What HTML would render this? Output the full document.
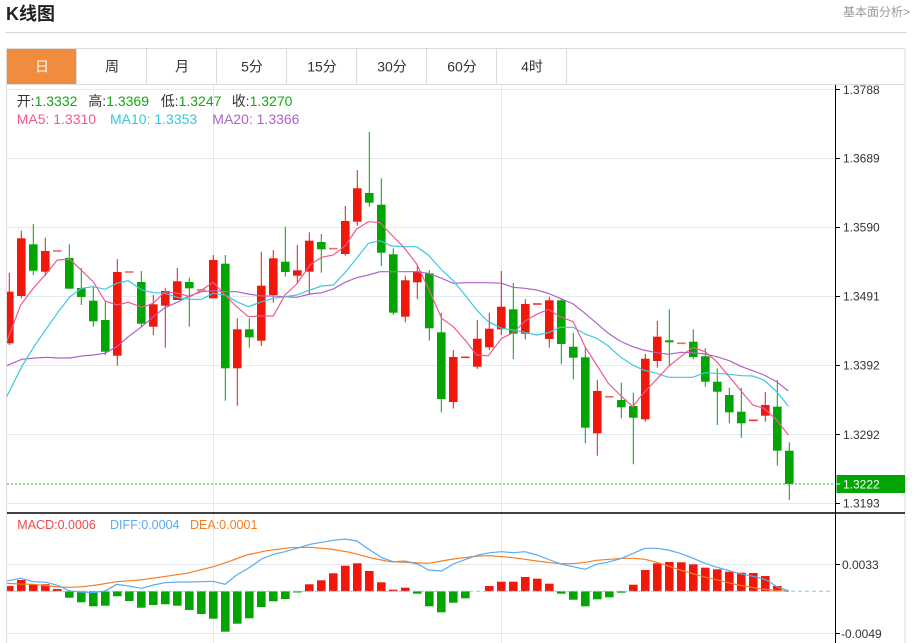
<!DOCTYPE html>
<html><head><meta charset="utf-8"><style>
html,body{margin:0;padding:0;background:#fff;}
svg{display:block;font-family:"Liberation Sans","Noto Sans CJK SC",sans-serif;}
.r{fill:#f0170b}.g{fill:#03a503}
.gl{stroke:#e3eaf0;stroke-width:1}
</style></head><body>
<svg width="915" height="643" viewBox="0 0 915 643" xmlns="http://www.w3.org/2000/svg">
<defs><clipPath id="cp"><rect x="7" y="85" width="828" height="558"/></clipPath></defs>
<!-- header -->
<text x="6" y="20" font-size="18" font-weight="bold" fill="#222">K线图</text>
<text x="910" y="16" font-size="12" fill="#999" text-anchor="end">基本面分析&gt;</text>
<line x1="5" y1="32.5" x2="907" y2="32.5" stroke="#d8d8d8" stroke-width="1"/>
<!-- container -->
<rect x="6.5" y="48.5" width="898.5" height="600" fill="none" stroke="#dcdcdc"/>
<rect x="7" y="49" width="69.5" height="35" fill="#f18b3e"/>
<line x1="6.5" y1="84.5" x2="905" y2="84.5" stroke="#dcdcdc"/>
<g stroke="#dcdcdc"><line x1="76.5" y1="49" x2="76.5" y2="84"/><line x1="146.5" y1="49" x2="146.5" y2="84"/><line x1="216.5" y1="49" x2="216.5" y2="84"/><line x1="286.5" y1="49" x2="286.5" y2="84"/><line x1="356.5" y1="49" x2="356.5" y2="84"/><line x1="426.5" y1="49" x2="426.5" y2="84"/><line x1="496.5" y1="49" x2="496.5" y2="84"/><line x1="566.5" y1="49" x2="566.5" y2="84"/></g>
<g font-size="14" text-anchor="middle" fill="#333">
<text x="42" y="71.5" fill="#fff">日</text><text x="112" y="71.5">周</text><text x="182" y="71.5">月</text><text x="252" y="71.5">5分</text><text x="322" y="71.5">15分</text><text x="392" y="71.5">30分</text><text x="462" y="71.5">60分</text><text x="532" y="71.5">4时</text>
</g>
<!-- grid -->
<g class="gl">
<line x1="7" y1="89.5" x2="835" y2="89.5"/><line x1="7" y1="158.5" x2="835" y2="158.5"/><line x1="7" y1="227.5" x2="835" y2="227.5"/><line x1="7" y1="296.5" x2="835" y2="296.5"/><line x1="7" y1="365.5" x2="835" y2="365.5"/><line x1="7" y1="434.5" x2="835" y2="434.5"/><line x1="7" y1="503.5" x2="835" y2="503.5"/>
<line x1="7" y1="564.5" x2="835" y2="564.5"/><line x1="7" y1="633.5" x2="835" y2="633.5"/>
<line x1="213.5" y1="85" x2="213.5" y2="643"/><line x1="501.5" y1="85" x2="501.5" y2="643"/>
</g>
<!-- info text -->
<g font-size="14">
<text x="16.7" y="106" fill="#333">开:<tspan fill="#12a812">1.3332</tspan></text>
<text x="88.3" y="106" fill="#333">高:<tspan fill="#12a812">1.3369</tspan></text>
<text x="160.7" y="106" fill="#333">低:<tspan fill="#12a812">1.3247</tspan></text>
<text x="231.7" y="106" fill="#333">收:<tspan fill="#12a812">1.3270</tspan></text>
<text x="16.7" y="124" fill="#f05a8c">MA5: 1.3310</text>
<text x="110" y="124" fill="#35c6e0">MA10: 1.3353</text>
<text x="212.3" y="124" fill="#b062c8">MA20: 1.3366</text>
</g>
<g clip-path="url(#cp)">
<!-- candles -->
<g transform="translate(5)" class="r"><rect x="3.8" y="273" width="1" height="72"/><rect y="291.7" width="8.6" height="51.6"/></g>
<g transform="translate(17)" class="r"><rect x="3.8" y="230.7" width="1" height="67.6"/><rect y="238.3" width="8.6" height="57.7"/></g>
<g transform="translate(29)" class="g"><rect x="3.8" y="224" width="1" height="51"/><rect y="244.3" width="8.6" height="26.4"/></g>
<g transform="translate(41)" class="r"><rect x="3.8" y="237.7" width="1" height="38.3"/><rect y="251" width="8.6" height="20.7"/></g>
<g transform="translate(53)" fill="#f26a60"><rect y="250.2" width="8.6" height="1.6"/></g>
<g transform="translate(65)" class="g"><rect x="3.8" y="244.3" width="1" height="44.4"/><rect y="258" width="8.6" height="30.7"/></g>
<g transform="translate(77)" class="g"><rect x="3.8" y="268" width="1" height="37"/><rect y="288" width="8.6" height="9"/></g>
<g transform="translate(89)" class="g"><rect x="3.8" y="285.7" width="1" height="41"/><rect y="300.7" width="8.6" height="20.6"/></g>
<g transform="translate(101)" class="g"><rect x="3.8" y="301.7" width="1" height="53.3"/><rect y="320" width="8.6" height="31.7"/></g>
<g transform="translate(113)" class="r"><rect x="3.8" y="259" width="1" height="106.7"/><rect y="272" width="8.6" height="83.7"/></g>
<g transform="translate(125)" fill="#f26a60"><rect y="271.2" width="8.6" height="1.6"/></g>
<g transform="translate(137)" class="g"><rect x="3.8" y="271" width="1" height="56.3"/><rect y="282" width="8.6" height="41.7"/></g>
<g transform="translate(149)" class="r"><rect x="3.8" y="295" width="1" height="40"/><rect y="304.3" width="8.6" height="22.4"/></g>
<g transform="translate(161)" class="r"><rect x="3.8" y="288.3" width="1" height="59.4"/><rect y="291" width="8.6" height="14.7"/></g>
<g transform="translate(173)" class="r"><rect x="3.8" y="268" width="1" height="32"/><rect y="281.3" width="8.6" height="18.7"/></g>
<g transform="translate(185)" class="g"><rect x="3.8" y="277.7" width="1" height="49"/><rect y="282" width="8.6" height="6.3"/></g>
<g transform="translate(197)" fill="#f26a60"><rect y="289.2" width="8.6" height="1.6"/></g>
<g transform="translate(209)" class="r"><rect x="3.8" y="255" width="1" height="43.3"/><rect y="260" width="8.6" height="38.3"/></g>
<g transform="translate(221)" class="g"><rect x="3.8" y="255" width="1" height="145.7"/><rect y="263.7" width="8.6" height="104.6"/></g>
<g transform="translate(233)" class="r"><rect x="3.8" y="318.3" width="1" height="87.4"/><rect y="329.3" width="8.6" height="39"/></g>
<g transform="translate(245)" class="g"><rect x="3.8" y="318.3" width="1" height="29.4"/><rect y="329.3" width="8.6" height="8"/></g>
<g transform="translate(257)" class="r"><rect x="3.8" y="251.7" width="1" height="94.3"/><rect y="285.7" width="8.6" height="55"/></g>
<g transform="translate(269)" class="r"><rect x="3.8" y="250" width="1" height="52.7"/><rect y="258.3" width="8.6" height="36.7"/></g>
<g transform="translate(281)" class="g"><rect x="3.8" y="226.7" width="1" height="50"/><rect y="261.7" width="8.6" height="10.3"/></g>
<g transform="translate(293)" class="r"><rect x="3.8" y="245" width="1" height="38.3"/><rect y="270.3" width="8.6" height="5.4"/></g>
<g transform="translate(305)" class="r"><rect x="3.8" y="232.3" width="1" height="62.7"/><rect y="240.7" width="8.6" height="31"/></g>
<g transform="translate(317)" class="g"><rect x="3.8" y="234" width="1" height="38.7"/><rect y="242" width="8.6" height="7.3"/></g>
<g transform="translate(329)" fill="#f26a60"><rect y="247.8" width="8.6" height="1.6"/></g>
<g transform="translate(341)" class="r"><rect x="3.8" y="206" width="1" height="49.7"/><rect y="221" width="8.6" height="33"/></g>
<g transform="translate(353)" class="r"><rect x="3.8" y="170" width="1" height="55.7"/><rect y="188.3" width="8.6" height="33.4"/></g>
<g transform="translate(365)" class="g"><rect x="3.8" y="132" width="1" height="74.7"/><rect y="193" width="8.6" height="9.7"/></g>
<g transform="translate(377)" class="g"><rect x="3.8" y="178.3" width="1" height="87.7"/><rect y="204.7" width="8.6" height="48"/></g>
<g transform="translate(389)" class="g"><rect x="3.8" y="248.3" width="1" height="66.7"/><rect y="254.3" width="8.6" height="58.4"/></g>
<g transform="translate(401)" class="r"><rect x="3.8" y="275.7" width="1" height="46.6"/><rect y="280.3" width="8.6" height="36.4"/></g>
<g transform="translate(413)" class="r"><rect x="3.8" y="265" width="1" height="34"/><rect y="271.3" width="8.6" height="11"/></g>
<g transform="translate(425)" class="g"><rect x="3.8" y="270" width="1" height="70.7"/><rect y="273.3" width="8.6" height="55"/></g>
<g transform="translate(437)" class="g"><rect x="3.8" y="312.7" width="1" height="99.6"/><rect y="332.3" width="8.6" height="66.7"/></g>
<g transform="translate(449)" class="r"><rect x="3.8" y="350" width="1" height="58.5"/><rect y="357" width="8.6" height="45"/></g>
<g transform="translate(461)" fill="#f0302a"><rect y="356.5" width="8.6" height="1.6"/></g>
<g transform="translate(473)" class="r"><rect x="3.8" y="320" width="1" height="49"/><rect y="338.7" width="8.6" height="28"/></g>
<g transform="translate(485)" class="r"><rect x="3.8" y="312.7" width="1" height="37.3"/><rect y="328.7" width="8.6" height="18.6"/></g>
<g transform="translate(497)" class="r"><rect x="3.8" y="271" width="1" height="64"/><rect y="306.7" width="8.6" height="22.6"/></g>
<g transform="translate(509)" class="g"><rect x="3.8" y="283" width="1" height="76"/><rect y="309.3" width="8.6" height="24.4"/></g>
<g transform="translate(521)" class="r"><rect x="3.8" y="299" width="1" height="40.3"/><rect y="304" width="8.6" height="29.7"/></g>
<g transform="translate(533)" fill="#f0302a"><rect y="303.2" width="8.6" height="1.6"/></g>
<g transform="translate(545)" class="r"><rect x="3.8" y="296.7" width="1" height="51"/><rect y="300.3" width="8.6" height="38.7"/></g>
<g transform="translate(557)" class="g"><rect x="3.8" y="298.3" width="1" height="66"/><rect y="300.3" width="8.6" height="43.7"/></g>
<g transform="translate(569)" class="g"><rect x="3.8" y="332.7" width="1" height="46.6"/><rect y="346.7" width="8.6" height="11"/></g>
<g transform="translate(581)" class="g"><rect x="3.8" y="346.7" width="1" height="96.6"/><rect y="357.3" width="8.6" height="70.4"/></g>
<g transform="translate(593)" class="r"><rect x="3.8" y="380" width="1" height="75.7"/><rect y="391" width="8.6" height="42.3"/></g>
<g transform="translate(605)" fill="#f26a60"><rect y="396" width="8.6" height="1.6"/></g>
<g transform="translate(617)" class="g"><rect x="3.8" y="382.7" width="1" height="35.6"/><rect y="400" width="8.6" height="7.3"/></g>
<g transform="translate(629)" class="g"><rect x="3.8" y="392.7" width="1" height="71.6"/><rect y="406" width="8.6" height="11.7"/></g>
<g transform="translate(641)" class="r"><rect x="3.8" y="354" width="1" height="67.7"/><rect y="358.7" width="8.6" height="60.6"/></g>
<g transform="translate(653)" class="r"><rect x="3.8" y="321" width="1" height="46.7"/><rect y="336.7" width="8.6" height="24.3"/></g>
<g transform="translate(665)" class="g"><rect x="3.8" y="309.3" width="1" height="56.4"/><rect y="340.3" width="8.6" height="2"/></g>
<g transform="translate(677)" fill="#f26a60"><rect y="342.5" width="8.6" height="1.6"/></g>
<g transform="translate(689)" class="g"><rect x="3.8" y="329.3" width="1" height="30"/><rect y="341.7" width="8.6" height="15.3"/></g>
<g transform="translate(701)" class="g"><rect x="3.8" y="348.3" width="1" height="38.4"/><rect y="356.3" width="8.6" height="25.4"/></g>
<g transform="translate(713)" class="g"><rect x="3.8" y="368.3" width="1" height="56.7"/><rect y="381.7" width="8.6" height="10"/></g>
<g transform="translate(725)" class="g"><rect x="3.8" y="387.7" width="1" height="35.6"/><rect y="395" width="8.6" height="17.3"/></g>
<g transform="translate(737)" class="g"><rect x="3.8" y="387.7" width="1" height="50"/><rect y="411.7" width="8.6" height="11.6"/></g>
<g transform="translate(749)" fill="#f0302a"><rect y="419.5" width="8.6" height="1.6"/></g>
<g transform="translate(761)" class="r"><rect x="3.8" y="392" width="1" height="29.7"/><rect y="405" width="8.6" height="10.7"/></g>
<g transform="translate(773)" class="g"><rect x="3.8" y="380" width="1" height="85.7"/><rect y="406.7" width="8.6" height="44"/></g>
<g transform="translate(785)" class="g"><rect x="3.8" y="442.3" width="1" height="57.7"/><rect y="450.7" width="8.6" height="33.3"/></g>
<!-- MA lines -->
<polyline fill="none" stroke="#b062c8" stroke-width="1.2" points="6.7,365.7 21.7,359.3 35,358 46.7,357.3 58.3,358 70,358 81.7,356 93.3,355 105,353.3 116.7,346.7 128.3,336.7 141.7,326.7 153.3,316.7 165,307.7 178.3,301.7 190,295.7 201.7,291.7 213.3,290.7 225,291.7 236.7,291.7 248.3,294 261.7,296 273.3,296 285,296.7 296.7,297.3 310,294 321.7,292.7 333.3,289 345,282.3 356.7,277.7 368.3,275 380,271.7 391.7,271.7 403.3,271.7 416.7,271.7 428.3,273.3 441.7,278.3 453.3,283.3 465,282.7 476.7,282.7 488.3,282.7 501.7,283.3 513.3,287.3 525,288.3 536.7,290 548.3,293.3 560,298.3 573.3,304 585,313.3 596.7,323.3 608.3,333.3 620,341 632.7,346.7 643.3,350 656.7,352.7 668.3,354.3 680.7,352.3 692.7,352.7 705,354 716.7,356.7 729.3,360.7 741.7,366.7 752.7,370.7 764,375 776.7,381.7 788.3,391"/>
<polyline fill="none" stroke="#3cc8e0" stroke-width="1.2" points="6.7,396.7 21.7,366.7 35,345 46.7,328.3 58.3,311.7 70,296.7 81.7,288.3 93.3,286.7 105,289.3 116.7,283.3 128.3,280.7 141.7,290 153.3,292.7 165,293.3 178.3,297.7 190,299.3 201.7,299.3 213.3,293.3 225,295 236.7,301.7 248.3,306.7 261.7,301.7 273.3,298.3 285,296.7 296.7,295 310,290 321.7,286 333.3,285 345,272.7 356.7,258.3 368.3,243.3 380,240.7 391.7,246 403.3,246.7 416.7,246.7 428.3,255 441.7,270 453.3,280.7 465,295 476.7,310 488.3,321.7 501.7,328.3 513.3,330 525,332.3 536.7,335 548.3,332.7 560,327.3 573.3,327.3 585,334 596.7,338.3 608.3,346 620,356.7 632.7,365 643.3,370 656.7,373.3 668.3,377.3 680.7,377.3 692.7,377.3 705,372.7 716.7,373.3 729.3,374.3 741.7,375.7 752.7,376 764,380 776.7,391.7 788.3,406"/>
<polyline fill="none" stroke="#f05a8c" stroke-width="1.2" points="6.7,341.7 20.7,305 33.3,288.3 46.7,273.3 57.3,260 70,259.3 81.7,270.7 93.3,281.7 105,301 116.7,305 128.3,302.3 141.7,307.3 153.3,303.3 165,291.7 178.3,293.3 190,296.7 201.7,290 213.3,282.3 225,295 236.7,306.7 248.3,316.7 261.7,316 273.3,316 285,295 296.7,284 310,265 321.7,257.3 333.3,255 345,246 356.7,229 368.3,221.7 380,222.7 391.7,235 403.3,246.7 416.7,264 428.3,288.3 441.7,318.3 453.3,326.7 465,340 476.7,355 488.3,355.7 501.7,338.3 513.3,332.7 525,321 536.7,314.3 548.3,309.3 560,316.7 573.3,321.7 585,346.7 596.7,365 608.3,383.3 620,395 632.7,406.7 643.3,393.3 656.7,379.3 668.3,366.7 680.7,356.7 692.7,347.3 705,351.7 716.7,361.7 729.3,376.7 741.7,391.7 752.7,405 764,408.3 776.7,420 788.3,435"/>
<!-- current price dotted -->
<line x1="7" y1="484" x2="835" y2="484" stroke="#55c255" stroke-width="1.3" stroke-dasharray="2,2"/>
<!-- MACD histogram -->
<g class="r"><rect x="5" y="586" width="8.6" height="5.3"/><rect x="17" y="580" width="8.6" height="11.3"/><rect x="29" y="584.3" width="8.6" height="7"/><rect x="41" y="584.3" width="8.6" height="7"/><rect x="53" y="589" width="8.6" height="2.3"/>
<rect x="305" y="584.3" width="8.6" height="7"/><rect x="317" y="580.3" width="8.6" height="11"/><rect x="329" y="573.3" width="8.6" height="18"/><rect x="341" y="565.7" width="8.6" height="25.6"/><rect x="353" y="563.3" width="8.6" height="28"/><rect x="365" y="571" width="8.6" height="20.3"/><rect x="377" y="582.3" width="8.6" height="9"/><rect x="389" y="589.7" width="8.6" height="1.6"/><rect x="401" y="587.7" width="8.6" height="3.6"/>
<rect x="485" y="586" width="8.6" height="5.3"/><rect x="497" y="581.7" width="8.6" height="9.6"/><rect x="509" y="581.7" width="8.6" height="9.6"/><rect x="521" y="577" width="8.6" height="14.3"/><rect x="533" y="578.7" width="8.6" height="12.6"/><rect x="545" y="583.7" width="8.6" height="7.6"/>
<rect x="629" y="584.7" width="8.6" height="6.6"/><rect x="641" y="570" width="8.6" height="21.3"/><rect x="653" y="563.3" width="8.6" height="28"/><rect x="665" y="562" width="8.6" height="29.3"/><rect x="677" y="562.3" width="8.6" height="29"/><rect x="689" y="564.3" width="8.6" height="27"/><rect x="701" y="567.7" width="8.6" height="23.6"/><rect x="713" y="569.3" width="8.6" height="22"/><rect x="725" y="571.7" width="8.6" height="19.6"/><rect x="737" y="572.7" width="8.6" height="18.6"/><rect x="749" y="573" width="8.6" height="18.3"/><rect x="761" y="576" width="8.6" height="15.3"/><rect x="773" y="586" width="8.6" height="5.3"/></g>
<g class="g"><rect x="65" y="591.3" width="8.6" height="6.4"/><rect x="77" y="591.3" width="8.6" height="11"/><rect x="89" y="591.3" width="8.6" height="15"/><rect x="101" y="591.3" width="8.6" height="14.4"/><rect x="113" y="591.3" width="8.6" height="5"/><rect x="125" y="591.3" width="8.6" height="9.7"/><rect x="137" y="591.3" width="8.6" height="16.4"/><rect x="149" y="591.3" width="8.6" height="13.7"/><rect x="161" y="591.3" width="8.6" height="13"/><rect x="173" y="591.3" width="8.6" height="14.4"/><rect x="185" y="591.3" width="8.6" height="18.7"/><rect x="197" y="591.3" width="8.6" height="22.7"/><rect x="209" y="591.3" width="8.6" height="27.4"/><rect x="221" y="591.3" width="8.6" height="40.4"/><rect x="233" y="591.3" width="8.6" height="32.4"/><rect x="245" y="591.3" width="8.6" height="27"/><rect x="257" y="591.3" width="8.6" height="15.7"/><rect x="269" y="591.3" width="8.6" height="10"/><rect x="281" y="591.3" width="8.6" height="7.7"/><rect x="293" y="591.3" width="8.6" height="1.2"/>
<rect x="413" y="591.3" width="8.6" height="2.4"/><rect x="425" y="591.3" width="8.6" height="15"/><rect x="437" y="591.3" width="8.6" height="21"/><rect x="449" y="591.3" width="8.6" height="11.4"/><rect x="461" y="591.3" width="8.6" height="7"/>
<rect x="557" y="591.3" width="8.6" height="2.4"/><rect x="569" y="591.3" width="8.6" height="8.4"/><rect x="581" y="591.3" width="8.6" height="15"/><rect x="593" y="591.3" width="8.6" height="8"/><rect x="605" y="591.3" width="8.6" height="6"/><rect x="617" y="591.3" width="8.6" height="1.4"/></g>
<line x1="7" y1="591.3" x2="832" y2="591.3" stroke="#7fcfea" stroke-width="1" stroke-dasharray="4,3"/>
<polyline fill="none" stroke="#f77d23" stroke-width="1.2" points="6.7,583.3 20,584 33.3,584.3 46.7,585.7 58.3,587 70,587.3 83.3,586.7 96.7,585 116.7,581.7 140,580 163.3,576.7 186.7,573.3 213.3,566.7 226.7,562.3 246.7,555 266.7,550.7 290,547.7 310,547.3 330,549 350,552.3 370,557.7 390,561.7 410,562.5 428.3,563.3 441.7,561 453.3,559 466.7,557.3 478.3,556 490,555.7 501.7,556.7 513.3,557.7 525,559.3 536.7,561 550,562.7 561.7,563.7 573.3,563.7 585,562.3 596.7,560.3 610,559.3 621.7,558.3 633.3,558.3 645,559.3 656.7,562.3 668.3,566 680,570 691.7,573.3 703.3,576.7 715,579.3 726.7,582.3 738.3,585 750,587 761.7,589 776.7,590.3 789,591.3"/>
<polyline fill="none" stroke="#5aaaf0" stroke-width="1.2" points="6.7,581 20.7,578.3 33.3,581.7 46.7,582.3 58.3,585.7 70,591 83.3,592.3 93.3,592.7 105,591 116.7,584.3 128.3,586 141.7,588.3 153.3,585 165,582.7 178.3,582 190,582 201.7,581.7 213.3,581.3 225,584.3 236.7,575 248.3,568.3 261.7,559 273.3,554.3 285,551.7 296.7,548.3 310,544.3 321.7,542.3 333.3,540.3 345,539 356.7,541 370,550 381.7,557.7 393.3,561.7 405,561 418.3,564.3 428.3,570 441.7,571 453.3,564 466.7,559 478.3,555 490,552.7 501.7,551.7 513.3,552.7 525,551.7 536.7,555 550,560 561.7,564.3 573.3,566.7 585,569.3 596.7,564.3 610,561.7 621.7,558.3 633.3,553.3 645,548.3 656.7,548.3 668.3,550 680,553.3 691.7,557.7 703.3,562.7 715,566.7 726.7,570 738.3,573.3 750,575.7 761.7,578.3 768.3,581 776.7,586.7 789,591"/>
</g>
<!-- MACD labels -->
<g font-size="12.5">
<text x="17.3" y="528.8" fill="#f04a4a">MACD:0.0006</text>
<text x="110" y="528.8" fill="#5aaaf0">DIFF:0.0004</text>
<text x="190" y="528.8" fill="#f77d23">DEA:0.0001</text>
</g>
<!-- separators / axes -->
<line x1="7" y1="513" x2="905" y2="513" stroke="#000" stroke-width="1.5"/>
<line x1="835.5" y1="85" x2="835.5" y2="643" stroke="#000" stroke-width="1"/>
<g stroke="#000" stroke-width="1">
<line x1="835" y1="89.5" x2="840" y2="89.5"/><line x1="835" y1="158.5" x2="840" y2="158.5"/><line x1="835" y1="227.5" x2="840" y2="227.5"/><line x1="835" y1="296.5" x2="840" y2="296.5"/><line x1="835" y1="365.5" x2="840" y2="365.5"/><line x1="835" y1="434.5" x2="840" y2="434.5"/><line x1="835" y1="503.5" x2="840" y2="503.5"/>
<line x1="835" y1="564.5" x2="840" y2="564.5"/><line x1="835" y1="633.5" x2="840" y2="633.5"/>
</g>
<g font-size="12" fill="#333">
<text x="843" y="94">1.3788</text><text x="843" y="162.5">1.3689</text><text x="843" y="231.5">1.3590</text><text x="843" y="300.5">1.3491</text><text x="843" y="369.5">1.3392</text><text x="843" y="438.8">1.3292</text><text x="843" y="507.5">1.3193</text>
<text x="842" y="568.8">0.0033</text><text x="841" y="637.8">-0.0049</text>
</g>
<rect x="836.5" y="475" width="68.5" height="18" fill="#03a503"/>
<line x1="836" y1="484" x2="840" y2="484" stroke="#fff"/>
<text x="843" y="488.5" font-size="12" fill="#fff">1.3222</text>
</svg>
</body></html>
